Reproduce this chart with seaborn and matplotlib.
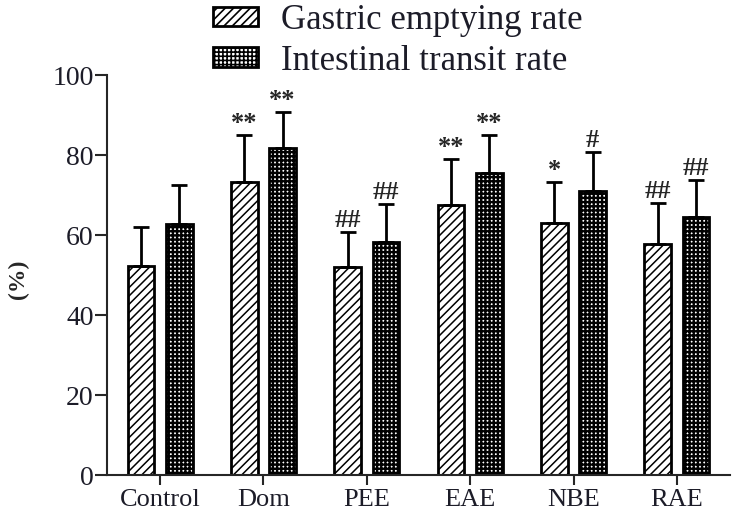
"""
Gastric emptying and intestinal transit rates by treatment group.
Grouped bar chart with one-sided SD error bars and significance marks.
"""

import numpy as np
import pandas as pd
import matplotlib
matplotlib.use('Agg')
import matplotlib.pyplot as plt
from matplotlib.patches import Patch
import seaborn as sns

# Data
groups = ['Control', 'Dom', 'PEE', 'EAE', 'NBE', 'RAE']
gastric_mean = [52.3, 73.2, 52.1, 67.5, 63.1, 57.7]
gastric_sd = [9.7, 11.8, 8.7, 11.4, 10.1, 10.4]
intestinal_mean = [62.8, 81.8, 58.3, 75.4, 71.1, 64.6]
intestinal_sd = [9.6, 8.9, 9.4, 9.6, 9.7, 9.1]
gastric_marks = ['', '**', '##', '**', '*', '##']
intestinal_marks = ['', '**', '##', '**', '#', '##']
series = ['Gastric emptying rate', 'Intestinal transit rate']

sns.set_style('ticks')
plt.rcParams['font.family'] = ['Liberation Serif', 'DejaVu Serif']
plt.rcParams['hatch.linewidth'] = 1.2
plt.rcParams['hatch.color'] = 'black'

df = pd.DataFrame({
    'group': groups * 2,
    'rate': gastric_mean + intestinal_mean,
    'series': [series[0]] * len(groups) + [series[1]] * len(groups),
})

fig = plt.figure(figsize=(7.32, 5.11), dpi=100)
ax = fig.add_axes([107 / 732, 36 / 511, 623 / 732, 400 / 511])

sns.barplot(data=df, x='group', y='rate', hue='series', order=groups,
            hue_order=series, errorbar=None, width=0.74, gap=0.3,
            palette=['white', 'white'], edgecolor='black', linewidth=2,
            legend=False, ax=ax)

hatches = ['////', '++++']
hatch_lw = [1.1, 1.7]
sds = [gastric_sd, intestinal_sd]
marks = [gastric_marks, intestinal_marks]


def style_patch(p, hatch, lw):
    p.set_hatch(hatch)
    if hasattr(p, 'set_hatch_linewidth'):
        p.set_hatch_linewidth(lw)


for cont, hatch, hlw, sd, mk in zip(ax.containers, hatches, hatch_lw, sds, marks):
    xs, ys = [], []
    for bar in cont:
        style_patch(bar, hatch, hlw)
        xs.append(bar.get_x() + bar.get_width() / 2)
        ys.append(bar.get_height())
    xs, ys = np.array(xs), np.array(ys)
    ax.errorbar(xs, ys, yerr=[np.zeros_like(ys), sd], fmt='none',
                ecolor='black', elinewidth=2, capsize=6, capthick=2, zorder=3)
    for x, y, s, m in zip(xs, ys, sd, mk):
        if m:
            ax.annotate(m, (x, y + s), xytext=(0, 0), textcoords='offset points',
                        ha='center', va='bottom', fontsize=19, fontweight='bold')

ax.set_xlim(-0.513, len(groups) - 1 + 0.513)
ax.set_ylim(0, 100)
ax.set_yticks(range(0, 101, 20))
ax.set_xlabel('')
ax.set_ylabel('(%)', fontsize=17, fontweight='bold')
ax.yaxis.set_label_coords(-0.125, 0.49)
ax.tick_params(axis='y', labelsize=20, length=8.5, width=1.5, pad=1)
ax.tick_params(axis='x', labelsize=19, length=7, width=1.5, pad=3)
for lab in ax.get_xticklabels() + ax.get_yticklabels():
    lab.set_color('#1c1c28')
sns.despine(ax=ax)
ax.spines['left'].set_linewidth(1.5)
ax.spines['bottom'].set_linewidth(1.5)

handles = [Patch(facecolor='white', edgecolor='black', linewidth=2, hatch=h)
           for h in hatches]
for h, hlw in zip(handles, hatch_lw):
    if hasattr(h, 'set_hatch_linewidth'):
        h.set_hatch_linewidth(hlw)
fig.legend(handles, series, loc='upper left', bbox_to_anchor=(189 / 732, 1.04),
           frameon=False, fontsize=25, handlelength=1.3, handleheight=0.5,
           handletextpad=0.65, labelspacing=0.22, borderpad=0.2,
           labelcolor='#1c1c28')

fig.savefig('out.png', dpi=100)
